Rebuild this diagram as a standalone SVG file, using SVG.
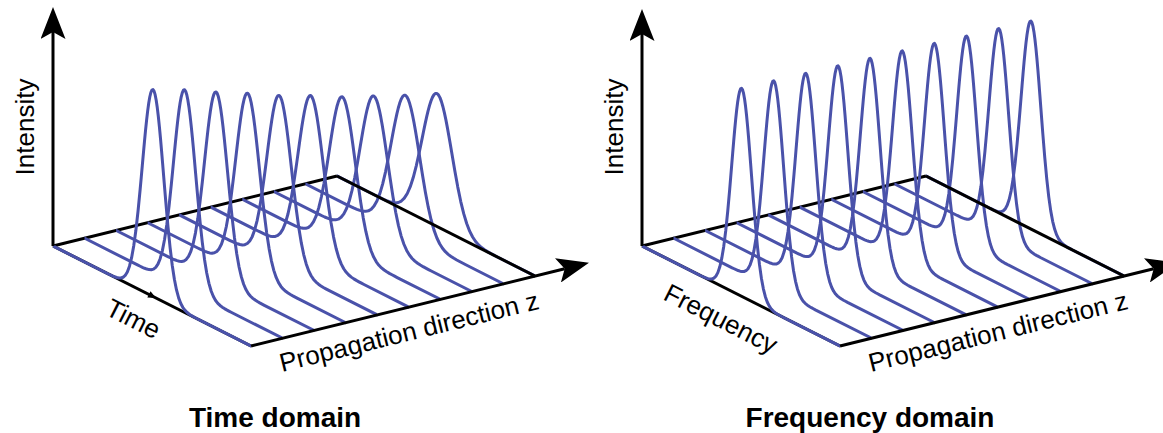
<svg xmlns="http://www.w3.org/2000/svg" width="1163" height="433" viewBox="0 0 1163 433">
<style>
.ax{fill:none;stroke:#000;stroke-width:3}
.arr{marker-end:url(#ah)}
.lbl{font-family:"Liberation Sans",Arial,Helvetica,sans-serif;font-size:26px;fill:#000}
.ttl{font-family:"Liberation Sans",Arial,Helvetica,sans-serif;font-size:28px;font-weight:bold;fill:#000;text-anchor:middle}
</style>
<defs>
<path id="gp" fill="none" stroke="#4a52aa" stroke-width="3" stroke-linejoin="round" vector-effect="non-scaling-stroke" d="M-60,0 L-4.2,0 -4,.0003 -3.8,.0007 -3.6,.0015 -3.4,.0031 -3.2,.006 -3,.0111 -2.8,.0198 -2.6,.034 -2.4,.0561 -2.2,.0889 -2,.1353 -1.8,.1979 -1.6,.278 -1.4,.3753 -1.2,.4868 -1.1,.5461 -1,.6065 -.9,.667 -.8,.7261 -.7,.7827 -.6,.8353 -.5,.8825 -.4,.9231 -.3,.956 -.2,.9802 -.1,.995 0,1 .1,.995 .2,.9802 .3,.956 .4,.9231 .5,.8825 .6,.8353 .7,.7827 .8,.7261 .9,.667 1,.6065 1.1,.5461 1.2,.4868 1.4,.3753 1.6,.278 1.8,.1979 2,.1353 2.2,.0889 2.4,.0561 2.6,.034 2.8,.0198 3,.0111 3.2,.006 3.4,.0031 3.6,.0015 3.8,.0007 4,.0003 4.2,0 60,0"/>
<clipPath id="cu" clipPathUnits="userSpaceOnUse"><rect x="0" y="-400" width="1" height="430"/></clipPath>
<marker id="ah" viewBox="0 0 32 25" refX="7" refY="12.5" markerWidth="32" markerHeight="25" markerUnits="userSpaceOnUse" orient="auto"><path d="M0,0 L32,12.5 L0,25 L7,12.5 Z" fill="#000"/></marker>
</defs>

<g id="time-domain">
  <g id="time-back-axes">
    <path class="ax" d="M53,246 L251,346"/>
    <path class="ax" d="M53,246 L337,176"/>
  </g>
  <g id="time-pulses">
    <g transform="matrix(198,100,0,1,53,246)" clip-path="url(#cu)"><use href="#gp" transform="translate(.505,0) scale(.054,-207)"/></g>
    <g transform="matrix(198,100,0,1,84.56,238.22)" clip-path="url(#cu)"><use href="#gp" transform="translate(.505,0) scale(.056,-199)"/></g>
    <g transform="matrix(198,100,0,1,116.11,230.44)" clip-path="url(#cu)"><use href="#gp" transform="translate(.505,0) scale(.058,-189)"/></g>
    <g transform="matrix(198,100,0,1,147.67,222.67)" clip-path="url(#cu)"><use href="#gp" transform="translate(.505,0) scale(.06,-180)"/></g>
    <g transform="matrix(198,100,0,1,179.22,214.89)" clip-path="url(#cu)"><use href="#gp" transform="translate(.505,0) scale(.062,-170)"/></g>
    <g transform="matrix(198,100,0,1,210.78,207.11)" clip-path="url(#cu)"><use href="#gp" transform="translate(.505,0) scale(.064,-162)"/></g>
    <g transform="matrix(198,100,0,1,242.33,199.33)" clip-path="url(#cu)"><use href="#gp" transform="translate(.505,0) scale(.066,-153)"/></g>
    <g transform="matrix(198,100,0,1,273.89,191.56)" clip-path="url(#cu)"><use href="#gp" transform="translate(.505,0) scale(.069,-146)"/></g>
    <g transform="matrix(198,100,0,1,305.44,183.78)" clip-path="url(#cu)"><use href="#gp" transform="translate(.505,0) scale(.072,-139)"/></g>
    <g transform="matrix(198,100,0,1,337,176)" clip-path="url(#cu)"><use href="#gp" transform="translate(.505,0) scale(.075,-133)"/></g>
  </g>
  <g id="time-front-axes">
    <path class="ax" d="M337,176 L535,276"/>
    <path class="ax arr" d="M251,346 L564.7,268.7"/>
    <path class="ax arr" d="M53,246 L53,32"/>
    <polygon points="156,298 147.3,297.5 150.5,291.3" fill="#000"/>
  </g>
  <text class="lbl" transform="translate(34,127) rotate(-90)" text-anchor="middle">Intensity</text>
  <text class="lbl" transform="translate(104,314) rotate(26.8)">Time</text>
  <text class="lbl" transform="translate(282,372) rotate(-13.8)">Propagation direction z</text>
  <text class="ttl" x="275" y="427">Time domain</text>
</g>

<g id="frequency-domain" transform="translate(589,0)">
  <g id="freq-back-axes">
    <path class="ax" d="M53,246 L251,346"/>
    <path class="ax" d="M53,246 L337,176"/>
  </g>
  <g id="freq-pulses">
    <g transform="matrix(198,100,0,1,53,246)" clip-path="url(#cu)"><use href="#gp" transform="translate(.503,0) scale(.05,-208)"/></g>
    <g transform="matrix(198,100,0,1,84.56,238.22)" clip-path="url(#cu)"><use href="#gp" transform="translate(.506,0) scale(.05,-208)"/></g>
    <g transform="matrix(198,100,0,1,116.11,230.44)" clip-path="url(#cu)"><use href="#gp" transform="translate(.509,0) scale(.05,-208)"/></g>
    <g transform="matrix(198,100,0,1,147.67,222.67)" clip-path="url(#cu)"><use href="#gp" transform="translate(.512,0) scale(.05,-208)"/></g>
    <g transform="matrix(198,100,0,1,179.22,214.89)" clip-path="url(#cu)"><use href="#gp" transform="translate(.515,0) scale(.05,-208)"/></g>
    <g transform="matrix(198,100,0,1,210.78,207.11)" clip-path="url(#cu)"><use href="#gp" transform="translate(.518,0) scale(.05,-208)"/></g>
    <g transform="matrix(198,100,0,1,242.33,199.33)" clip-path="url(#cu)"><use href="#gp" transform="translate(.521,0) scale(.05,-208)"/></g>
    <g transform="matrix(198,100,0,1,273.89,191.56)" clip-path="url(#cu)"><use href="#gp" transform="translate(.524,0) scale(.05,-208)"/></g>
    <g transform="matrix(198,100,0,1,305.44,183.78)" clip-path="url(#cu)"><use href="#gp" transform="translate(.527,0) scale(.05,-208)"/></g>
    <g transform="matrix(198,100,0,1,337,176)" clip-path="url(#cu)"><use href="#gp" transform="translate(.53,0) scale(.05,-208)"/></g>
  </g>
  <g id="freq-front-axes">
    <path class="ax" d="M337,176 L535,276"/>
    <path class="ax arr" d="M251,346 L564.7,268.7"/>
    <path class="ax arr" d="M53,246 L53,34"/>
  </g>
  <text class="lbl" transform="translate(34,127) rotate(-90)" text-anchor="middle">Intensity</text>
  <text class="lbl" transform="translate(73,299) rotate(26.8)">Frequency</text>
  <text class="lbl" transform="translate(282,372) rotate(-13.8)">Propagation direction z</text>
  <text class="ttl" x="281" y="427">Frequency domain</text>
</g>
</svg>
